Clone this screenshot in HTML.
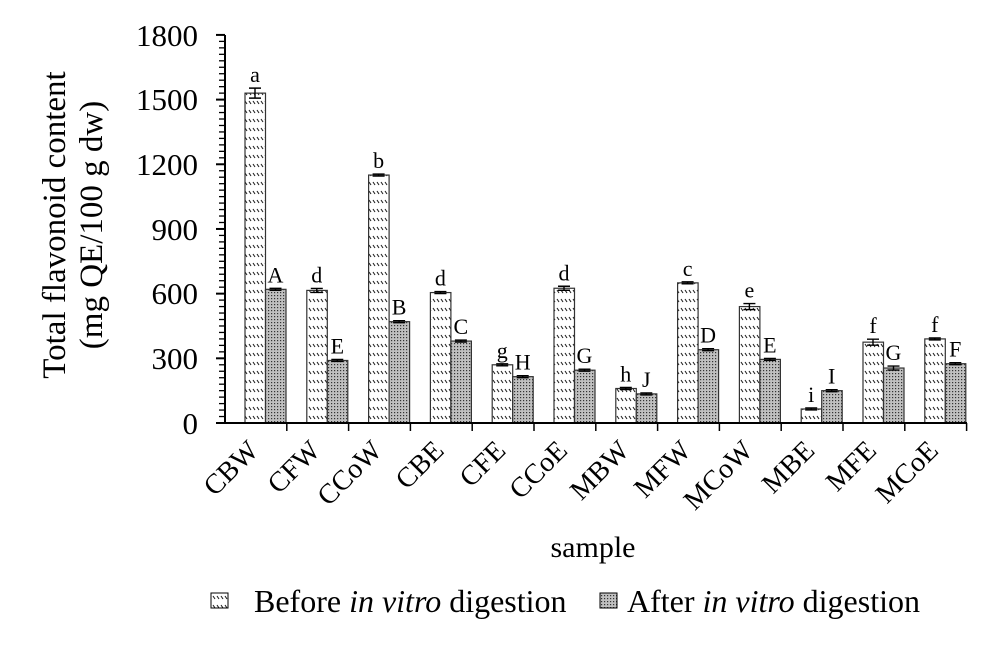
<!DOCTYPE html>
<html><head><style>body{margin:0;background:#fff}svg{display:block}text{font-family:"Liberation Serif",serif;fill:#000}</style></head>
<body>
<svg width="998" height="652" viewBox="0 0 998 652">
<defs>
<pattern id="hb" width="8" height="9" patternUnits="userSpaceOnUse">
<rect width="8" height="9" fill="#fff"/>
<path d="M1 2 L3 5 M5 2 L7 5" stroke="#222" stroke-width="1.1"/>
</pattern>
<pattern id="ha" width="3" height="3" patternUnits="userSpaceOnUse">
<rect width="3" height="3" fill="#c0c0c0"/>
<rect x="1" y="1" width="1.2" height="1.2" fill="#333"/>
</pattern>
</defs>
<g id="bars"></g>
<line x1="225" y1="35" x2="225" y2="424" stroke="#000" stroke-width="2"/>
<g id="yt"></g>
<line x1="224" y1="423" x2="967" y2="423" stroke="#000" stroke-width="2"/>
<g font-size="31" text-anchor="end">
<text x="198" y="434">0</text><text x="198" y="369">300</text><text x="198" y="304">600</text>
<text x="198" y="240">900</text><text x="198" y="175">1200</text><text x="198" y="110">1500</text><text x="198" y="46">1800</text>
</g>
<text transform="translate(65,225) rotate(-90)" font-size="33" text-anchor="middle">Total flavonoid content</text>
<text transform="translate(102,225) rotate(-90)" font-size="33" text-anchor="middle">(mg QE/100 g dw)</text>
<text x="593" y="557" font-size="30" text-anchor="middle">sample</text>
<rect x="211" y="593" width="17" height="15" fill="url(#hb)" stroke="#000" stroke-width="1"/>
<text x="254" y="612" font-size="32">Before <tspan font-style="italic">in vitro</tspan> digestion</text>
<rect x="600" y="593" width="17" height="15" fill="url(#ha)" stroke="#000" stroke-width="1"/>
<text x="627" y="612" font-size="32">After <tspan font-style="italic">in vitro</tspan> digestion</text>
<g id="xl"></g>
</svg>
<script>
var ns="http://www.w3.org/2000/svg";
function el(p,t,a,txt){var e=document.createElementNS(ns,t);for(var k in a)e.setAttribute(k,a[k]);if(txt)e.textContent=txt;p.appendChild(e);return e;}
var B=document.getElementById('bars'),YT=document.getElementById('yt'),XL=document.getElementById('xl');
function Y(v){return 423-v*0.2156;}
for(var v=0;v<=1800;v+=30){var big=v%300==0;el(YT,'line',{x1:big?216:219,x2:225,y1:Y(v),y2:Y(v),stroke:'#000','stroke-width':big?2:1.3});}
var d=[["CBW",1530,620,"a","A",5,1],["CFW",615,290,"d","E",2,1],["CCoW",1150,470,"b","B",1,1],["CBE",605,380,"d","C",1,1],["CFE",270,215,"g","H",1,1],["CCoE",625,245,"d","G",2,1],["MBW",160,135,"h","J",1,1],["MFW",650,340,"c","D",1,1],["MCoW",540,295,"e","E",3,1],["MBE",65,150,"i","I",1,1],["MFE",375,255,"f","G",3,2],["MCoE",390,275,"f","F",1,1]];
var w=61.8;
d.forEach(function(r,i){var x0=225+i*w;
el(XL,'line',{x1:x0+w,x2:x0+w,y1:423,y2:431,stroke:'#000','stroke-width':1.5});
var bx=x0+20,aw=20.5;
[[r[1],'url(#hb)',bx,r[3],r[5]],[r[2],'url(#ha)',bx+aw,r[4],r[6]]].forEach(function(q){
var y=Y(q[0]),e=q[4];el(B,'rect',{x:q[2],y:y,width:aw,height:423-y,fill:q[1],stroke:'#333','stroke-width':1.2});
el(B,'path',{d:'M'+(q[2]+10)+' '+(y-e)+'V'+(y+e)+'M'+(q[2]+4)+' '+(y-e)+'h12M'+(q[2]+4)+' '+(y+e)+'h12',stroke:'#000','stroke-width':1.4,fill:'none'});
el(B,'text',{x:q[2]+10,y:y-e-6,'font-size':22,'text-anchor':'middle'},q[3]);});
el(XL,'text',{transform:'translate('+(x0+w/2+4)+',452) rotate(-45)','font-size':28,'text-anchor':'end'},r[0]);
});
</script>
</body></html>
